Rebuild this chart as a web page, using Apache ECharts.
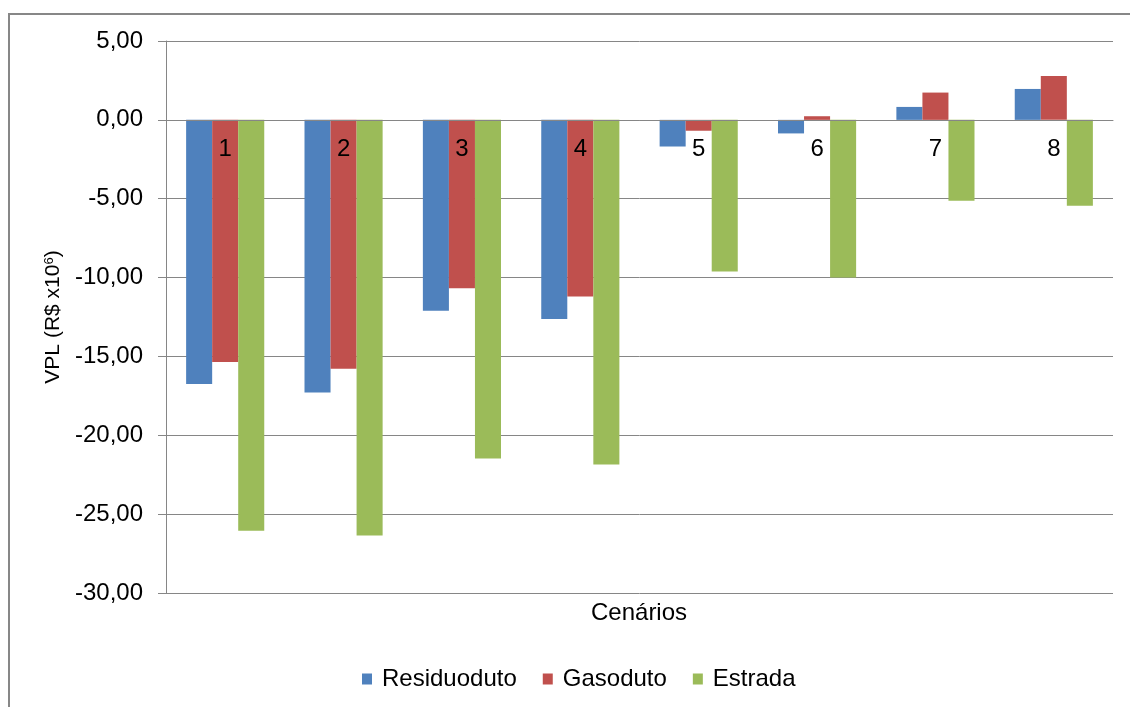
<!DOCTYPE html>
<html>
<head>
<meta charset="utf-8">
<script src="https://cdn.jsdelivr.net/npm/echarts@6/dist/echarts.min.js"></script>
<style>html,body{margin:0;padding:0;background:#fff}#c{width:1130px;height:707px}</style>
</head>
<body>
<div id="c"></div>
<script>
var categories = ['1','2','3','4','5','6','7','8'];
var residuoduto = [-16.75, -17.28, -12.11, -12.63, -1.69, -0.86, 0.82, 1.96];
var gasoduto = [-15.35, -15.78, -10.67, -11.20, -0.69, 0.23, 1.73, 2.78];
var estrada = [-26.05, -26.35, -21.47, -21.85, -9.62, -10.00, -5.13, -5.44];
var yMin = -30, yMax = 5, yStep = 5;

var font = 'Liberation Sans, Arial, sans-serif';
var gridTop = 41, gridBottom = 114, H = 707;
var gridH = H - gridTop - gridBottom;
// move the top-positioned category axis down to the value 0 line
var zeroOffset = -gridH * (yMax - 0) / (yMax - yMin);

var chart = echarts.init(document.getElementById('c'), null, {renderer: 'canvas'});
chart.setOption({
  backgroundColor: '#ffffff',
  animation: false,
  textStyle: {fontFamily: font},
  title: {
    text: 'Cenários',
    left: 591, top: 601, padding: 0,
    textStyle: {fontSize: 24, fontWeight: 'normal', color: '#000', fontFamily: font}
  },
  graphic: [{
    type: 'rect', silent: true, z: -1,
    shape: {x: 9, y: 14, width: 1200, height: 800},
    style: {fill: 'none', stroke: '#878787', lineWidth: 2}
  }],
  grid: {left: 166, right: 17, top: gridTop, bottom: gridBottom, containLabel: false},
  legend: {
    left: 362, top: 667, padding: 0,
    itemWidth: 10, itemHeight: 11, itemGap: 26,
    icon: 'rect',
    textStyle: {fontSize: 24, color: '#000', fontFamily: font, padding: [0, 0, 0, 5]},
    data: ['Residuoduto', 'Gasoduto', 'Estrada']
  },
  xAxis: {
    type: 'category',
    data: categories,
    position: 'top',
    offset: zeroOffset,
    z: 5,
    axisLine: {onZero: false, lineStyle: {color: '#868686', width: 1}},
    axisTick: {show: false},
    axisLabel: {inside: true, fontSize: 24, color: '#000', margin: 18, fontFamily: font},
    splitLine: {show: false}
  },
  yAxis: {
    type: 'value',
    min: yMin, max: yMax, interval: yStep,
    axisLine: {show: true, lineStyle: {color: '#868686'}},
    axisTick: {show: true, length: 8, lineStyle: {color: '#868686'}},
    splitLine: {show: true, lineStyle: {color: '#868686', width: 1}},
    axisLabel: {
      fontSize: 24, color: '#000', margin: 23, fontFamily: font,
      formatter: function (v) { return v.toFixed(2).replace('.', ','); }
    },
    name: 'VPL (R$ x10{sup|6})',
    nameLocation: 'middle',
    nameGap: 98,
    nameTextStyle: {
      fontSize: 21, color: '#000', fontFamily: font,
      rich: {sup: {fontSize: 13, verticalAlign: 'top', padding: [0, 0, 9, 0], color: '#000', fontFamily: font}}
    }
  },
  series: [
    {name: 'Residuoduto', type: 'bar', data: residuoduto, barGap: '0%', barCategoryGap: '34%', itemStyle: {color: '#4F81BD'}},
    {name: 'Gasoduto', type: 'bar', data: gasoduto, barGap: '0%', barCategoryGap: '34%', itemStyle: {color: '#C0504D'}},
    {name: 'Estrada', type: 'bar', data: estrada, barGap: '0%', barCategoryGap: '34%', itemStyle: {color: '#9BBB59'}}
  ]
});
</script>
</body>
</html>
